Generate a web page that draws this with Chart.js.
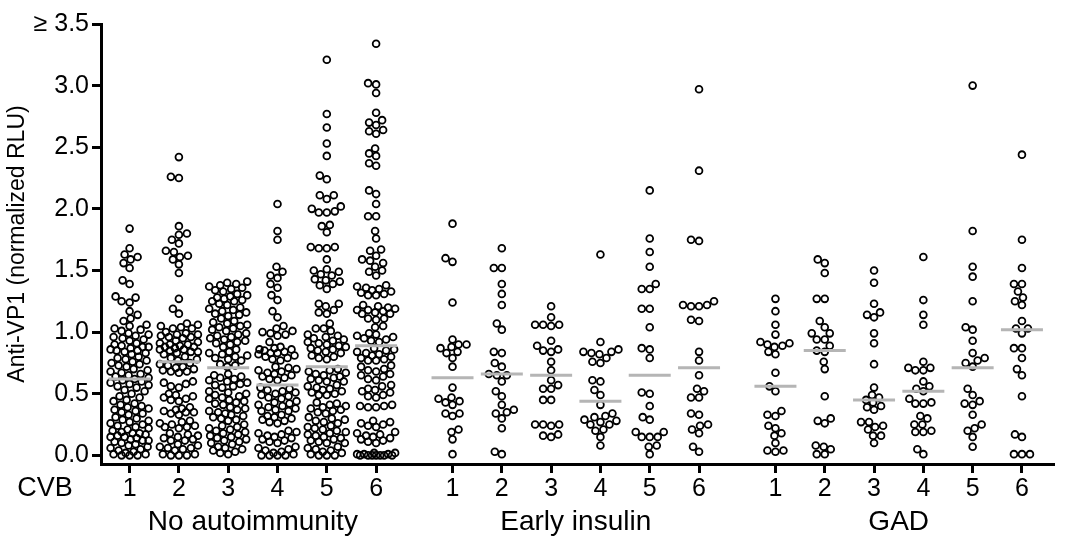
<!DOCTYPE html>
<html>
<head>
<meta charset="utf-8">
<script src="https://cdn.jsdelivr.net/npm/chart.js@4.4.1/dist/chart.umd.min.js"></script>
<style>
  body { margin: 0; background: #fff; }
</style>
</head>
<body>
<canvas id="grafico" width="1078" height="539"></canvas>
<script>
/* Datos */
const grupos = ['No autoimmunity', 'Early insulin', 'GAD'];
const cvbLabels = ['1', '2', '3', '4', '5', '6'];
const yTicks = [0, 0.5, 1, 1.5, 2, 2.5, 3, 3.5];

const noAuto1 = [1.84, 1.68, 1.63, 1.61, 1.59, 1.56, 1.52, 1.42, 1.39, 1.29, 1.28, 1.25, 1.24, 1.17, 1.14, 1.11, 1.09,
  1.06, 1.05, 1.03, 1.02, 1.01, 0.99, 0.98, 0.97, 0.96, 0.95, 0.94, 0.93,
  0.91, 0.90, 0.89, 0.88, 0.88, 0.87, 0.86, 0.85, 0.85, 0.84, 0.83, 0.82,
  0.80, 0.79, 0.78, 0.77, 0.76, 0.75, 0.74, 0.73, 0.72,
  0.70, 0.69, 0.68, 0.67, 0.66, 0.65, 0.64, 0.63, 0.62, 0.61, 0.60, 0.59, 0.58, 0.57, 0.56, 0.55,
  0.53, 0.52, 0.50, 0.48, 0.47, 0.45, 0.44,
  0.42, 0.41, 0.40, 0.39, 0.38, 0.37, 0.36, 0.35, 0.34, 0.33,
  0.31, 0.30, 0.29, 0.28, 0.27, 0.26, 0.25, 0.24, 0.23, 0.22, 0.21,
  0.20, 0.19, 0.18, 0.18, 0.17, 0.16, 0.15, 0.15, 0.14, 0.13, 0.12, 0.12, 0.11,
  0.10, 0.09, 0.08, 0.07, 0.06, 0.05, 0.04, 0.03, 0.02, 0.01, 0.01, 0.00, 0.00, 0.00];
const noAuto2 = [2.42, 2.26, 2.25, 1.86, 1.80, 1.79, 1.75, 1.72, 1.66, 1.65, 1.62, 1.61, 1.59, 1.55, 1.48, 1.27, 1.19, 1.15,
  1.07, 1.06, 1.05, 1.04, 1.03, 1.03, 1.00, 0.99, 0.98, 0.98, 0.97, 0.96, 0.96, 0.95,
  0.93, 0.92, 0.91, 0.90, 0.90, 0.89, 0.88, 0.88, 0.87, 0.86, 0.86, 0.85, 0.84, 0.84, 0.83, 0.82,
  0.80, 0.79, 0.78, 0.77, 0.75, 0.74, 0.73, 0.72, 0.71, 0.70, 0.69, 0.68, 0.68, 0.67,
  0.60, 0.59, 0.58, 0.56, 0.55, 0.50, 0.49, 0.48, 0.47, 0.46, 0.45, 0.44,
  0.39, 0.38, 0.37, 0.36, 0.35, 0.35, 0.34, 0.33, 0.28, 0.27, 0.26, 0.25, 0.24, 0.23, 0.23, 0.22,
  0.18, 0.17, 0.16, 0.15, 0.14, 0.13, 0.12, 0.12, 0.09, 0.08, 0.07, 0.06, 0.06, 0.05, 0.04,
  0.01, 0.01, 0.00, 0.00, 0.00];
const noAuto3 = [1.41, 1.40, 1.39, 1.38, 1.37, 1.36, 1.35, 1.34, 1.33,
  1.31, 1.30, 1.29, 1.28, 1.27, 1.26, 1.25, 1.25, 1.23, 1.22,
  1.20, 1.19, 1.18, 1.17, 1.16, 1.15, 1.14, 1.13, 1.11,
  1.09, 1.08, 1.07, 1.06, 1.05, 1.04, 1.03, 1.02, 1.01,
  0.99, 0.98, 0.97, 0.96, 0.95, 0.94, 0.93, 0.92, 0.91, 0.90, 0.88, 0.86,
  0.84, 0.83, 0.82, 0.81, 0.80, 0.79, 0.78, 0.77, 0.74, 0.73, 0.72,
  0.66, 0.65, 0.64, 0.63, 0.62, 0.61, 0.60, 0.59, 0.58, 0.57, 0.56, 0.55,
  0.52, 0.51, 0.50, 0.49, 0.48, 0.47, 0.46, 0.45, 0.44, 0.43, 0.42, 0.41,
  0.39, 0.38, 0.37, 0.36, 0.35, 0.34, 0.33, 0.32, 0.31, 0.30, 0.29, 0.28,
  0.25, 0.24, 0.23, 0.22, 0.21, 0.20, 0.19, 0.18, 0.17,
  0.16, 0.15, 0.14, 0.13, 0.12, 0.11, 0.10, 0.09,
  0.07, 0.06, 0.05, 0.04, 0.03, 0.02, 0.01];
const noAuto4 = [2.04, 1.82, 1.75, 1.53, 1.49, 1.46, 1.44, 1.39, 1.36, 1.30, 1.26, 1.17, 1.12,
  1.05, 1.03, 1.01, 1.00, 0.99, 0.98, 0.97, 0.92,
  0.88, 0.87, 0.86, 0.86, 0.85, 0.84, 0.83, 0.83, 0.82, 0.81, 0.80, 0.79, 0.78, 0.77,
  0.72, 0.71, 0.70, 0.69, 0.68, 0.67, 0.66, 0.65, 0.64, 0.63, 0.62, 0.61,
  0.55, 0.54, 0.53, 0.52, 0.51, 0.50, 0.49, 0.48, 0.47, 0.46,
  0.44, 0.43, 0.42, 0.41, 0.40, 0.39, 0.38, 0.37, 0.36, 0.36,
  0.33, 0.32, 0.31, 0.30, 0.29, 0.28, 0.27, 0.26,
  0.20, 0.19, 0.18, 0.17, 0.16, 0.15, 0.14, 0.13, 0.12, 0.11, 0.10,
  0.07, 0.06, 0.05, 0.04, 0.03, 0.02, 0.01, 0.00, 0.00, 0.00, 0.00];
const noAuto5 = [3.21, 2.77, 2.66, 2.53, 2.43, 2.27, 2.24, 2.11, 2.08, 2.11, 2.02, 2.00, 1.98, 1.97, 1.97,
  1.87, 1.86, 1.81, 1.69, 1.69, 1.68, 1.68, 1.59, 1.51, 1.50, 1.49, 1.47, 1.46,
  1.43, 1.42, 1.41, 1.39, 1.38, 1.35, 1.23, 1.23, 1.21, 1.18, 1.16, 1.15, 1.07, 1.03, 1.03, 1.01,
  0.98, 0.97, 0.96, 0.95, 0.94, 0.93, 0.92, 0.91, 0.90, 0.89, 0.88, 0.87, 0.86, 0.85, 0.84, 0.83, 0.81, 0.80, 0.79, 0.78,
  0.70, 0.69, 0.68, 0.67, 0.66, 0.65, 0.64, 0.63, 0.62, 0.61, 0.60, 0.60,
  0.57, 0.56, 0.55, 0.54, 0.53, 0.52, 0.51, 0.50, 0.49, 0.49,
  0.43, 0.42, 0.41, 0.40, 0.39, 0.38, 0.37, 0.36, 0.35, 0.34,
  0.31, 0.30, 0.29, 0.28, 0.27, 0.26, 0.24, 0.23,
  0.22, 0.21, 0.20, 0.19, 0.18, 0.17, 0.16, 0.15, 0.14, 0.13, 0.12, 0.11, 0.10, 0.10,
  0.07, 0.06, 0.05, 0.04, 0.03, 0.02, 0.01, 0.00, 0.00, 0.00];
const noAuto6 = [3.34, 3.02, 3.01, 2.94, 2.78, 2.72, 2.70, 2.68, 2.64, 2.63, 2.61, 2.49, 2.45, 2.43, 2.37, 2.35,
  2.15, 2.12, 2.04, 1.94, 1.94, 1.82, 1.76, 1.67, 1.66, 1.62, 1.59, 1.58, 1.56, 1.53, 1.50, 1.49, 1.46,
  1.38, 1.37, 1.36, 1.35, 1.34, 1.33, 1.32, 1.31, 1.30, 1.30,
  1.22, 1.21, 1.20, 1.19, 1.18, 1.18, 1.17, 1.16, 1.15, 1.15, 1.11, 1.11, 1.10, 1.05, 1.04,
  0.99, 0.98, 0.97, 0.96, 0.95, 0.94, 0.93, 0.92,
  0.87, 0.86, 0.85, 0.84, 0.83, 0.82, 0.81, 0.80, 0.79, 0.78, 0.77, 0.77,
  0.73, 0.72, 0.70, 0.69, 0.68, 0.66, 0.65, 0.64, 0.62, 0.61,
  0.57, 0.56, 0.54, 0.53, 0.52, 0.51, 0.49, 0.48, 0.47,
  0.41, 0.40, 0.40, 0.39, 0.39, 0.28, 0.27, 0.26, 0.25, 0.24, 0.23,
  0.19, 0.18, 0.17, 0.16, 0.15, 0.14, 0.13, 0.12, 0.11, 0.10,
  0.02, 0.02, 0.01, 0.01, 0.01, 0.00, 0.00, 0.00, 0.00, 0.00, 0.00, 0.00];

const early1 = [1.88, 1.60, 1.57, 1.24, 0.94, 0.90, 0.87, 0.83, 0.84, 0.88, 0.90, 0.79, 0.72, 0.55,
  0.47, 0.44, 0.43, 0.46, 0.41, 0.34, 0.32, 0.34, 0.19, 0.21, 0.13, 0.01];
const early2 = [1.68, 1.52, 1.52, 1.39, 1.31, 1.22, 1.07, 1.02, 0.83, 0.84, 0.75, 0.72, 0.65, 0.65,
  0.66, 0.60, 0.52, 0.48, 0.41, 0.37, 0.34, 0.35, 0.30, 0.22, 0.01, 0.03];
const early3 = [1.21, 1.12, 1.06, 1.05, 1.06, 1.06, 0.93, 0.89, 0.85, 0.84, 0.86, 0.76, 0.69, 0.61,
  0.54, 0.54, 0.57, 0.45, 0.45, 0.25, 0.25, 0.25, 0.24, 0.17, 0.15, 0.16];
const early4 = [1.63, 0.92, 0.84, 0.82, 0.86, 0.76, 0.75, 0.79, 0.83, 0.84, 0.61, 0.60, 0.53, 0.49,
  0.41, 0.34, 0.31, 0.32, 0.28, 0.29, 0.25, 0.27, 0.25, 0.21, 0.20, 0.15, 0.08];
const early5 = [2.15, 1.76, 1.65, 1.53, 1.39, 1.35, 1.35, 1.19, 1.19, 1.04, 0.86, 0.87, 0.79, 0.50,
  0.51, 0.40, 0.29, 0.31, 0.19, 0.15, 0.15, 0.15, 0.19, 0.08, 0.07, 0.01];
const early6 = [2.97, 2.31, 1.74, 1.75, 1.22, 1.21, 1.21, 1.22, 1.25, 1.09, 1.10, 0.84, 0.77, 0.65,
  0.54, 0.47, 0.47, 0.52, 0.33, 0.34, 0.25, 0.21, 0.18, 0.24, 0.03, 0.07];

const gad1 = [1.27, 1.17, 1.06, 0.98, 0.91, 0.92, 0.89, 0.84, 0.82, 0.88, 0.90, 0.67, 0.56, 0.52,
  0.36, 0.32, 0.33, 0.24, 0.18, 0.16, 0.22, 0.10, 0.04, 0.03, 0.04];
const gad2 = [1.59, 1.56, 1.48, 1.27, 1.27, 1.09, 1.04, 0.99, 0.99, 0.94, 0.94, 0.89, 0.85, 0.84,
  0.76, 0.70, 0.48, 0.28, 0.26, 0.30, 0.08, 0.05, 0.01, 0.01, 0.07];
const gad3 = [1.50, 1.40, 1.23, 1.14, 1.12, 1.16, 0.99, 0.91, 0.74, 0.55, 0.47, 0.45, 0.49, 0.43,
  0.39, 0.37, 0.40, 0.27, 0.23, 0.24, 0.27, 0.16, 0.21, 0.16, 0.10];
const gad4 = [1.61, 1.26, 1.14, 1.06, 0.71, 0.69, 0.69, 0.71, 0.76, 0.56, 0.52, 0.54, 0.60, 0.46,
  0.42, 0.42, 0.43, 0.32, 0.30, 0.25, 0.25, 0.19, 0.19, 0.20, 0.05, 0.01];
const gad5 = [3.00, 1.82, 1.53, 1.45, 1.25, 1.02, 1.04, 0.93, 0.83, 0.79, 0.75, 0.72, 0.77, 0.54,
  0.49, 0.44, 0.41, 0.42, 0.33, 0.25, 0.22, 0.20, 0.15, 0.07];
const gad6 = [2.44, 1.75, 1.52, 1.39, 1.33, 1.39, 1.28, 1.22, 1.25, 1.09, 1.03, 0.99, 1.03, 0.87,
  0.79, 0.87, 0.70, 0.65, 0.48, 0.17, 0.15, 0.01, 0.01, 0.01];

/* Medianas (lineas grises) */
const medNoAuto = [0.62, 0.76, 0.71, 0.57, 0.72, 0.89];
const medEarly = [0.63, 0.66, 0.65, 0.44, 0.65, 0.71];
const medGad = [0.56, 0.85, 0.45, 0.52, 0.71, 1.02];

const columnas = [noAuto1, noAuto2, noAuto3, noAuto4, noAuto5, noAuto6,
  early1, early2, early3, early4, early5, early6,
  gad1, gad2, gad3, gad4, gad5, gad6];
const medianas = [...medNoAuto, ...medEarly, ...medGad];

/* Posicion de cada columna en el eje x (6 por grupo, con hueco entre grupos) */
const gapGrupo = 6.55;
const posiciones = columnas.map((_, i) => Math.floor(i / 6) * gapGrupo + (i % 6));
const centrosGrupo = grupos.map((_, g) => g * gapGrupo + 2.5);

const fuente = "'Liberation Sans', Arial, Helvetica, sans-serif";

const puntos = [];
columnas.forEach((vals, ci) => {
  vals.forEach(v => puntos.push({ x: posiciones[ci], y: Math.min(v, 3.5), col: ci }));
});

/* Etiquetas de grupo y "CVB" */
const etiquetasGrupo = {
  id: 'etiquetasGrupo',
  afterDraw(chart) {
    const ctx = chart.ctx;
    const xs = chart.scales.x;
    ctx.save();
    ctx.fillStyle = '#000';
    ctx.textAlign = 'center';
    ctx.textBaseline = 'middle';
    ctx.font = '28px ' + fuente;
    grupos.forEach((g, i) => ctx.fillText(g, xs.getPixelForValue(centrosGrupo[i]), 522));
    ctx.font = '27px ' + fuente;
    ctx.fillText('CVB', 45, 489);
    ctx.restore();
  }
};

/* Reparte los puntos horizontalmente para que no se tapen (beeswarm) */
function repartir(chart) {
  const xs = chart.scales.x, ys = chart.scales.y;
  const unidad = xs.getPixelForValue(1) - xs.getPixelForValue(0);
  const D = 7.4, maxAncho = 19;
  columnas.forEach((vals, ci) => {
    const pts = puntos.filter(p => p.col === ci).sort((a, b) => a.y - b.y);
    const colocados = [];
    pts.forEach(p => {
      const py = ys.getPixelForValue(p.y);
      let mejor = 0, mejorDist = -1;
      for (let k = 0; k <= maxAncho * 2; k++) {
        const off = k % 2 === 0 ? k / 2 : -(k + 1) / 2;
        let minD = Infinity;
        for (const c of colocados) {
          const d = Math.hypot(c.ox - off, c.py - py);
          if (d < minD) minD = d;
        }
        if (minD >= D) { mejor = off; mejorDist = Infinity; break; }
        if (minD > mejorDist) { mejorDist = minD; mejor = off; }
      }
      colocados.push({ ox: mejor, py: py });
      p.x = posiciones[ci] + mejor / unidad;
    });
  });
}

const config = {
  type: 'scatter',
  data: {
    datasets: [
      {
        label: 'Mediana',
        data: medianas.map((m, i) => ({ x: posiciones[i], y: m })),
        pointStyle: 'line',
        pointRadius: 21,
        borderColor: '#b5b5b5',
        borderWidth: 3
      },
      {
        label: 'Sueros',
        data: puntos,
        pointStyle: 'circle',
        pointRadius: 3.4,
        borderColor: '#000',
        backgroundColor: 'rgba(255,255,255,0)',
        borderWidth: 1.8
      }
    ]
  },
  options: {
    responsive: false,
    animation: false,
    devicePixelRatio: 1,
    events: [],
    layout: { padding: { top: 20, right: 7, left: 0, bottom: 0 } },
    plugins: { legend: { display: false }, tooltip: { enabled: false } },
    scales: {
      x: {
        type: 'linear',
        min: -0.58,
        max: 18.75,
        afterBuildTicks: s => { s.ticks = posiciones.map(v => ({ value: v })); },
        afterFit: s => { s.height = 75; },
        grid: { display: true, drawOnChartArea: false, drawTicks: true, tickLength: 9, tickWidth: 3, tickColor: '#000' },
        border: { display: true, color: '#000', width: 3 },
        ticks: {
          color: '#000',
          font: { family: fuente, size: 25 },
          padding: 1,
          maxRotation: 0,
          autoSkip: false,
          callback: (v, i) => cvbLabels[i % 6]
        }
      },
      y: {
        min: -0.07,
        max: 3.5,
        afterBuildTicks: s => { s.ticks = yTicks.map(v => ({ value: v })); },
        afterFit: s => { s.width = 101; },
        grid: { display: true, drawOnChartArea: false, drawTicks: true, tickLength: 9, tickWidth: 3, tickColor: '#000' },
        border: { display: true, color: '#000', width: 3 },
        ticks: {
          color: '#000',
          font: { family: fuente, size: 25 },
          padding: 3,
          callback: v => v === 3.5 ? '\u2265 3.5' : v.toFixed(1)
        },
        title: {
          display: true,
          text: 'Anti-VP1 (normalized RLU)',
          color: '#000',
          font: { family: fuente, size: 23 },
          padding: { top: 4, bottom: 0 }
        }
      }
    }
  },
  plugins: [etiquetasGrupo]
};

const ctx = document.getElementById('grafico').getContext('2d');
const chart = new Chart(ctx, config);
repartir(chart);
chart.update('none');
</script>
</body>
</html>
